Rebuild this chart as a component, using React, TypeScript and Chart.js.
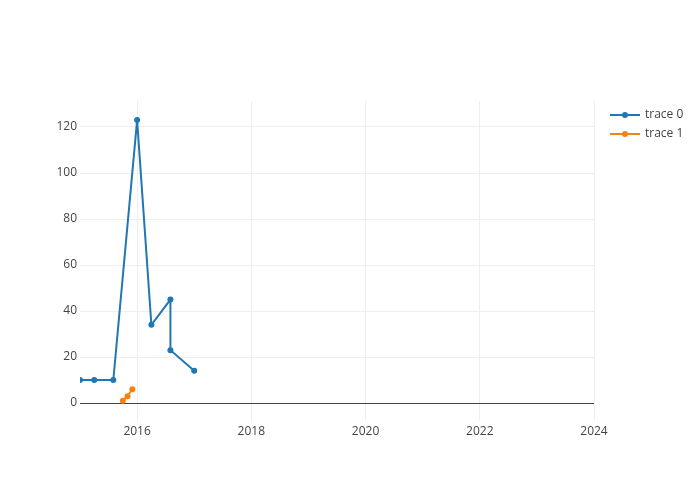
import React, { useEffect, useRef } from "react";
import { Chart, registerables } from "chart.js";

Chart.register(...registerables);

// Data (dates)
const trace0Dates = ["2015-01-01", "2015-04-01", "2015-08-01", "2016-01-01", "2016-04-01", "2016-08-01", "2016-08-01", "2017-01-01"];
const trace0Values = [10, 10, 10, 123, 34, 45, 23, 14];
const trace1Dates = ["2015-10-01", "2015-11-01", "2015-12-01"];
const trace1Values = [1, 3, 6];
const xTickValues = [2016, 2018, 2020, 2022, 2024];
const yTickValues = [0, 20, 40, 60, 80, 100, 120];
const seriesNames = ["trace 0", "trace 1"];
const seriesColors = ["#1f77b4", "#ff7f0e"];

const toYear = (d: string) => {
  const [y, m, day] = d.split("-").map(Number);
  return y + (m - 1) / 12 + (day - 1) / 365;
};

const FONT = "'Open Sans', 'Noto Sans', sans-serif";

const legendPlugin = {
  id: "plotlyLegend",
  afterDraw(chart: any) {
    const ctx = chart.ctx;
    ctx.save();
    seriesNames.forEach((name, i) => {
      const y = 115 + i * 19;
      ctx.strokeStyle = seriesColors[i];
      ctx.lineWidth = 2;
      ctx.beginPath();
      ctx.moveTo(610, y);
      ctx.lineTo(640, y);
      ctx.stroke();
      ctx.fillStyle = seriesColors[i];
      ctx.beginPath();
      ctx.arc(625, y, 3, 0, Math.PI * 2);
      ctx.fill();
      ctx.fillStyle = "#444";
      ctx.font = `12px ${FONT}`;
      ctx.textBaseline = "middle";
      ctx.textAlign = "left";
      ctx.fillText(name, 645, y);
    });
    ctx.restore();
  },
};

export default function App() {
  const ref = useRef<HTMLCanvasElement | null>(null);
  useEffect(() => {
    if (!ref.current) return;
    const chart = new Chart(ref.current, {
      type: "line",
      data: {
        datasets: [
          {
            label: seriesNames[0],
            data: trace0Dates.map((d, i) => ({ x: toYear(d), y: trace0Values[i] })),
            borderColor: seriesColors[0],
            backgroundColor: seriesColors[0],
            borderWidth: 2,
            pointRadius: 3,
            pointBorderWidth: 0,
            tension: 0,
          },
          {
            label: seriesNames[1],
            data: trace1Dates.map((d, i) => ({ x: toYear(d), y: trace1Values[i] })),
            borderColor: seriesColors[1],
            backgroundColor: seriesColors[1],
            borderWidth: 2,
            pointRadius: 3,
            pointBorderWidth: 0,
            tension: 0,
          },
        ],
      },
      options: {
        animation: false,
        responsive: false,
        maintainAspectRatio: false,
        layout: { padding: { left: 0, right: 106, top: 101, bottom: 0 } },
        plugins: { legend: { display: false }, tooltip: { enabled: false } },
        scales: {
          x: {
            type: "linear",
            min: 2015,
            max: 2024,
            afterBuildTicks: (s: any) => {
              s.ticks = xTickValues.map((v) => ({ value: v }));
            },
            afterFit: (s: any) => {
              s.height = 79;
            },
            grid: { color: "#eeeeee", drawTicks: false, lineWidth: 1 },
            border: { display: false },
            ticks: {
              padding: 3,
              color: "#444",
              font: { family: FONT, size: 12 },
              maxRotation: 0,
              callback: (v: any) => String(v),
            },
          },
          y: {
            type: "linear",
            min: -7.8,
            max: 131.3,
            afterBuildTicks: (s: any) => {
              s.ticks = yTickValues.map((v) => ({ value: v }));
            },
            afterFit: (s: any) => {
              s.width = 80;
            },
            grid: {
              color: (c: any) => (c.tick && c.tick.value === 0 ? "#444444" : "#eeeeee"),
              drawTicks: false,
              lineWidth: 1,
            },
            border: { display: false },
            ticks: {
              padding: 3,
              color: "#444",
              font: { family: FONT, size: 12 },
              callback: (v: any) => String(v),
            },
          },
        },
      },
      plugins: [legendPlugin],
    });
    return () => chart.destroy();
  }, []);
  return (
    <div style={{ position: "fixed", left: 0, top: 0, width: 700, height: 500, background: "#fff" }}>
      <canvas ref={ref} width={700} height={500} style={{ width: 700, height: 500 }} />
    </div>
  );
}
